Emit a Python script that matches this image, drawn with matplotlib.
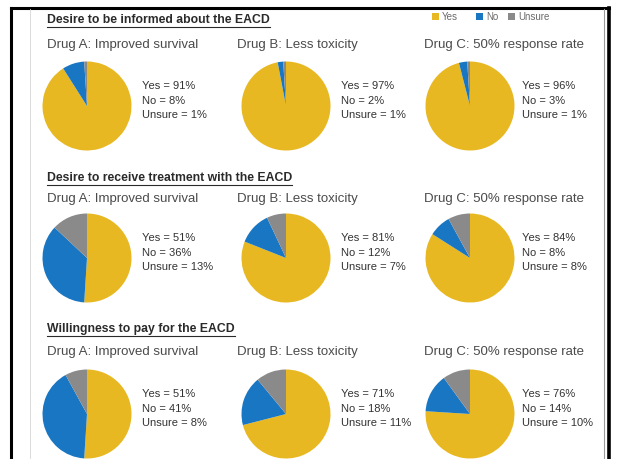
import matplotlib.pyplot as plt
from matplotlib.lines import Line2D
from matplotlib.patches import Rectangle

plt.rcParams["font.family"] = ["Liberation Sans", "DejaVu Sans"]

W, H = 621, 459

YES_C = "#E8B822"
NO_C = "#1976C2"
UNSURE_C = "#8A8A8A"

questions = [
    "Desire to be informed about the EACD",
    "Desire to receive treatment with the EACD",
    "Willingness to pay for the EACD",
]
drugs = ["Drug A: Improved survival", "Drug B: Less toxicity", "Drug C: 50% response rate"]
yes = [[91, 97, 96], [51, 81, 84], [51, 71, 76]]
no = [[8, 2, 3], [36, 12, 8], [41, 18, 14]]
unsure = [[1, 1, 1], [13, 7, 8], [8, 11, 10]]

# layout in pixels (from top-left)
title_y = [20, 178, 329]
sub_y = [45, 199, 352]
pie_cy = [106, 258, 414]
pie_cx = [87, 286, 470]
sub_x = [47, 237, 424]
lab_x = [142, 341, 522]
R = 44.5


def fx(x):
    return x / W


def fy(y):
    return 1 - y / H


fig = plt.figure(figsize=(W / 100, H / 100), dpi=100)
fig.patch.set_facecolor("white")

# frame lines
for (x0, y0, x1, y1, c, lw) in [
    (11, 8, 609, 8, "black", 2.2),
    (11, 8, 11, H, "black", 2.2),
    (609, 8, 609, H, "black", 2.6),
    (30, 9, 30, H, "#d6d6d6", 0.6),
    (604, 9, 604, H, "#9a9a9a", 0.8),
]:
    fig.add_artist(Line2D([fx(x0), fx(x1)], [fy(y0), fy(y1)], color=c, lw=lw,
                          transform=fig.transFigure))

# legend
leg = [("Yes", YES_C, 432), ("No", NO_C, 476), ("Unsure", UNSURE_C, 508)]
for name, col, x in leg:
    fig.add_artist(Rectangle((fx(x), fy(20)), 7 / W, 7 / H, color=col, lw=0,
                             transform=fig.transFigure))
    fig.text(fx(x + 10), fy(16.5), name, fontsize=7, color="#6a6a6a", va="center")

title_texts = []
for r in range(3):
    t = fig.text(fx(47), fy(title_y[r]), questions[r], fontsize=8.8, fontweight="bold",
                 color="#2a2a2a", va="center")
    title_texts.append(t)
    for c in range(3):
        fig.text(fx(sub_x[c]), fy(sub_y[r]), drugs[c], fontsize=9.5, color="#4a4a4a",
                 va="center")
        ax = fig.add_axes([fx(pie_cx[c] - R), fy(pie_cy[r] + R), 2 * R / W, 2 * R / H])
        ax.pie([yes[r][c], no[r][c], unsure[r][c]], colors=[YES_C, NO_C, UNSURE_C],
               startangle=90, counterclock=False, radius=1,
               wedgeprops=dict(linewidth=0))
        ax.set_xlim(-1, 1)
        ax.set_ylim(-1, 1)
        ax.set_aspect("auto")
        ax.axis("off")
        lines = [f"Yes = {yes[r][c]}%", f"No = {no[r][c]}%", f"Unsure = {unsure[r][c]}%"]
        for i, s in enumerate(lines):
            fig.text(fx(lab_x[c]), fy(pie_cy[r] - 20 + 14.5 * i), s, fontsize=8,
                     color="#333333", va="center")

# underline the section titles
fig.canvas.draw()
rend = fig.canvas.get_renderer()
for t in title_texts:
    bb = t.get_window_extent(rend).transformed(fig.transFigure.inverted())
    fig.add_artist(Line2D([bb.x0, bb.x1], [bb.y0 - 1 / H, bb.y0 - 1 / H], color="#2a2a2a",
                          lw=0.8, transform=fig.transFigure))

fig.savefig("out.png", dpi=100)
